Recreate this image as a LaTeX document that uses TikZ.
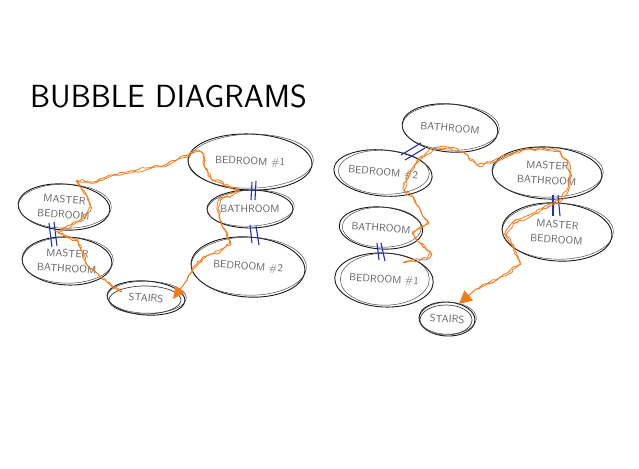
\documentclass[tikz,border=0pt]{standalone}
\usetikzlibrary{shapes.geometric,decorations.pathmorphing,arrows.meta,calc}
\definecolor{rt}{RGB}{246,122,24}
\definecolor{bl}{RGB}{30,45,200}
\newcommand\mybubble[7]{%
  \node[bub, minimum width={2*#4}, minimum height={2*#5}, rotate=#6] (#1) at (#2,#3) {#7};
  \draw[sk, rotate around={#6+3:(#1.center)}] ($(#1.center)+(0.8,-0.8)$) ellipse [x radius={#4+0.5}, y radius={#5-1}];
}
\begin{document}
\begin{tikzpicture}[x=1pt,y=-1pt,
  bub/.style={ellipse, draw=black!90, line width=0.9pt, inner sep=0pt, font=\sffamily\fontsize{10.5}{15}\selectfont, text=black!62, align=center},
  sk/.style={draw=black!75, line width=0.45pt},
  route/.style={draw=rt, line width=0.8pt, decorate, decoration={random steps, segment length=3pt, amplitude=1.6pt}, rounded corners=1pt},
  rtarrow/.style={draw=rt, line width=1pt, -{Triangle[length=12pt,width=11pt]}},
  bar/.style={draw=bl, line width=1.1pt},
  title/.style={font=\sffamily\fontsize{32}{32}\selectfont, text=black, inner sep=0pt}
]
\useasboundingbox[fill=white] (0,0) rectangle (639,468);

\node[title, anchor=base west] (ttl) at (30,108) {BUBBLE DIAGRAMS};

% ---------------- left diagram ----------------
\mybubble{mbed}{64}{207}{46}{23}{-4}{MASTER\\BEDROOM}
\mybubble{mbath}{67}{261}{45}{24}{-3}{MASTER\\BATHROOM}
\mybubble{bedA}{250}{162}{62}{28}{-2}{BEDROOM \#1}
\mybubble{bathA}{250}{209}{43}{19}{0}{BATHROOM}
\mybubble{bedB}{248}{267}{57}{30}{-4}{BEDROOM \#2}
\mybubble{stairsL}{146}{298}{39}{17}{-4}{STAIRS}
\draw[sk, line width=0.7pt] ($(stairsL.center)+(-1,2)$) ellipse [x radius=36, y radius=14];

% bars
\draw[bar] (49,223) -- (52,247);
\draw[bar] (54,222) -- (57,246);
\draw[bar] (252,182) -- (251,200);
\draw[bar] (256,181) -- (255,200);
\draw[bar] (250,225) -- (252,243);
\draw[bar] (256,226) -- (259,245);

% route
\coordinate (l0) at (122,292);
\coordinate (lend) at (187,280);
\coordinate (ltip) at (173,299);
\foreach \dx in {0,1.2}{
\draw[route, shift={(\dx,\dx)}] (l0) -- (107,282) -- (97,273) -- (87,265) -- (82,252) -- (77,240) -- (57,232) -- (80,220) -- (90,207)
 -- (87,197) -- (80,187) -- (76,180) -- (93,182) -- (110,175) -- (127,172) -- (147,168) -- (167,164)
 -- (180,157) -- (197,150) -- (202,152) -- (203,163) -- (210,177) -- (230,187) -- (238,190)
 -- (233,193) -- (220,198) -- (217,207) -- (220,220) -- (227,237) -- (230,243) -- (220,250)
 -- (203,257) -- (193,267) -- (lend);
}
\draw[rtarrow] (lend) -- (ltip);

% ---------------- right diagram ----------------
\mybubble{rbath}{450}{128}{48}{24}{-5}{BATHROOM}
\mybubble{rbedB}{383}{173}{45}{23}{-5}{BEDROOM \#2}
\mybubble{rmbath}{547}{173}{55}{26}{-3}{MASTER\\BATHROOM}
\mybubble{rbathB}{381}{228}{39}{21}{-4}{BATHROOM}
\mybubble{rbedA}{384}{280}{44}{27}{-3}{BEDROOM \#1}
\mybubble{rmbed}{557}{232}{55}{29}{-4}{MASTER\\BEDROOM}
\mybubble{rstairs}{447}{319}{28}{17}{-3}{STAIRS}
\draw[sk, line width=0.7pt] ($(rstairs.center)+(-1,1)$) ellipse [x radius=26, y radius=15];

% bars
\draw[bar] (401,155) -- (421,143);
\draw[bar] (405,160) -- (425,148);
\draw[bar] (377,243) -- (379,260);
\draw[bar] (381,243) -- (385,261);
\draw[bar] (553,195) -- (553,216);
\draw[bar] (558,195) -- (560,216);

% route
\coordinate (r0) at (403,263);
\coordinate (rend) at (476,289);
\coordinate (rtip) at (459,304);
\foreach \dx in {0,1.2}{
\draw[route, shift={(\dx,\dx)}] (r0) -- (413,260) -- (427,258) -- (430,252) -- (420,243) -- (412,233) -- (420,227) -- (428,222)
 -- (420,210) -- (413,197) -- (403,190) -- (407,177) -- (413,167) -- (420,157) -- (433,148)
 -- (447,147) -- (463,152) -- (477,165) -- (490,162) -- (507,155) -- (520,150) -- (540,148)
 -- (557,150) -- (567,160) -- (570,173) -- (567,190) -- (560,200) -- (553,203) -- (533,213)
 -- (513,222) -- (505,233) -- (513,247) -- (520,263) -- (507,273) -- (490,282) -- (rend);
}
\draw[rtarrow, -{Triangle[length=13pt,width=13pt]}] (rend) -- (rtip);
\end{tikzpicture}
\end{document}
